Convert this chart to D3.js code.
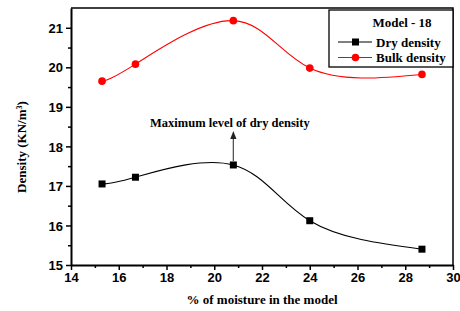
<!DOCTYPE html>
<html>
<head>
<meta charset="utf-8">
<script src="https://cdn.jsdelivr.net/npm/d3@7"></script>
<style>
  body { margin: 0; background: #fff; }
  .tick text { font-family: "Liberation Sans", Arial, sans-serif; font-weight: bold; font-size: 13px; }
  .serif { font-family: "Liberation Serif", "Times New Roman", serif; font-weight: bold; }
</style>
</head>
<body>
<script>
var moisture = [15.3, 16.7, 20.8, 24.0, 28.7];
var dryDensity = [17.05, 17.22, 17.53, 16.12, 15.40];
var bulkDensity = [19.65, 20.08, 21.18, 19.98, 19.82];
var xTicks = [14, 16, 18, 20, 22, 24, 26, 28, 30];
var yTicks = [15, 16, 17, 18, 19, 20, 21];

function main() {
  var svg = d3.select("body").append("svg")
    .attr("width", 460)
    .attr("height", 311);

  var left = 71, right = 453, top = 8, bottom = 265;

  var x = d3.scaleLinear().domain([14, 30]).range([left, right]);
  var y = d3.scaleLinear().domain([15, 21.5]).range([bottom, top]);

  // minor ticks
  var xMinor = d3.range(15, 30, 2);
  var yMinor = d3.range(15.5, 21.5, 1);

  svg.append("g")
    .attr("transform", "translate(0," + bottom + ")")
    .call(d3.axisBottom(x).tickValues(xMinor).tickSize(3).tickFormat(""))
    .call(function(g) { g.select(".domain").remove(); });
  svg.append("g")
    .attr("transform", "translate(" + left + ",0)")
    .call(d3.axisLeft(y).tickValues(yMinor).tickSize(3).tickFormat(""))
    .call(function(g) { g.select(".domain").remove(); });

  var xAxis = svg.append("g")
    .attr("transform", "translate(0," + bottom + ")")
    .call(d3.axisBottom(x).tickValues(xTicks).tickFormat(d3.format("d"))
      .tickSize(5).tickSizeOuter(0).tickPadding(3));
  var yAxis = svg.append("g")
    .attr("transform", "translate(" + left + ",0)")
    .call(d3.axisLeft(y).tickValues(yTicks).tickFormat(d3.format("d"))
      .tickSize(5).tickSizeOuter(0).tickPadding(3));

  svg.selectAll(".tick line").attr("stroke-width", 1.5);
  svg.selectAll(".domain").attr("stroke-width", 2);
  yAxis.selectAll(".tick text").attr("dy", "0.36em");

  // top & right frame
  svg.append("path")
    .attr("d", "M" + left + "," + top + "H" + right + "V" + bottom)
    .attr("fill", "none")
    .attr("stroke", "#000")
    .attr("stroke-width", 1.5);

  var line = d3.line()
    .x(function(d) { return x(d[0]); })
    .y(function(d) { return y(d[1]); })
    .curve(d3.curveNatural);

  var dry = d3.zip(moisture, dryDensity);
  var bulk = d3.zip(moisture, bulkDensity);

  svg.append("path").datum(dry)
    .attr("d", line).attr("fill", "none").attr("stroke", "#000").attr("stroke-width", 1.1);
  svg.append("path").datum(bulk)
    .attr("d", line).attr("fill", "none").attr("stroke", "#ff0000").attr("stroke-width", 1.1);

  svg.selectAll("rect.dry").data(dry).enter().append("rect")
    .attr("class", "dry")
    .attr("x", function(d) { return x(d[0]) - 3.5; })
    .attr("y", function(d) { return y(d[1]) - 3.5; })
    .attr("width", 7).attr("height", 7)
    .attr("fill", "#000");

  svg.selectAll("circle.bulk").data(bulk).enter().append("circle")
    .attr("class", "bulk")
    .attr("cx", function(d) { return x(d[0]); })
    .attr("cy", function(d) { return y(d[1]); })
    .attr("r", 3.8)
    .attr("fill", "#ff0000");

  // annotation arrow
  var peak = dry[2];
  svg.append("defs").append("marker")
    .attr("id", "arrow").attr("viewBox", "0 0 10 10")
    .attr("refX", 5).attr("refY", 5)
    .attr("markerWidth", 6).attr("markerHeight", 8)
    .attr("orient", "auto")
    .append("path").attr("d", "M0,1L10,5L0,9Z").attr("fill", "#222");
  svg.append("line")
    .attr("x1", x(peak[0])).attr("x2", x(peak[0]))
    .attr("y1", y(peak[1]) - 4).attr("y2", 135)
    .attr("stroke", "#555").attr("stroke-width", 1.3)
    .attr("marker-end", "url(#arrow)");
  svg.append("text").attr("class", "serif")
    .attr("x", 150).attr("y", 127)
    .attr("font-size", 12.5)
    .text("Maximum level of dry density");

  // legend
  var lg = svg.append("g");
  lg.append("rect")
    .attr("x", 329).attr("y", 10).attr("width", 124).attr("height", 57)
    .attr("fill", "#fff").attr("stroke", "#000").attr("stroke-width", 1.3);
  lg.append("text").attr("class", "serif")
    .attr("x", 402).attr("y", 27).attr("text-anchor", "middle")
    .attr("font-size", 13).text("Model - 18");
  lg.append("line").attr("x1", 338).attr("x2", 372).attr("y1", 42).attr("y2", 42)
    .attr("stroke", "#000").attr("stroke-width", 1.1);
  lg.append("rect").attr("x", 352).attr("y", 38.5).attr("width", 7).attr("height", 7).attr("fill", "#000");
  lg.append("text").attr("class", "serif")
    .attr("x", 376).attr("y", 46.5).attr("font-size", 13).text("Dry density");
  lg.append("line").attr("x1", 338).attr("x2", 372).attr("y1", 57.5).attr("y2", 57.5)
    .attr("stroke", "#ff0000").attr("stroke-width", 1.1);
  lg.append("circle").attr("cx", 355.5).attr("cy", 57.5).attr("r", 3.8).attr("fill", "#ff0000");
  lg.append("text").attr("class", "serif")
    .attr("x", 376).attr("y", 62).attr("font-size", 13).text("Bulk density");

  // axis titles
  svg.append("text").attr("class", "serif")
    .attr("x", 262).attr("y", 304).attr("text-anchor", "middle")
    .attr("font-size", 13).text("% of moisture in the model");

  var yt = svg.append("text").attr("class", "serif")
    .attr("transform", "translate(26,147) rotate(-90)")
    .attr("text-anchor", "middle")
    .attr("font-size", 13);
  yt.append("tspan").text("Density (KN/m");
  yt.append("tspan").attr("baseline-shift", "super").attr("font-size", 8).text("3");
  yt.append("tspan").text(")");
}

main();
</script>
</body>
</html>
